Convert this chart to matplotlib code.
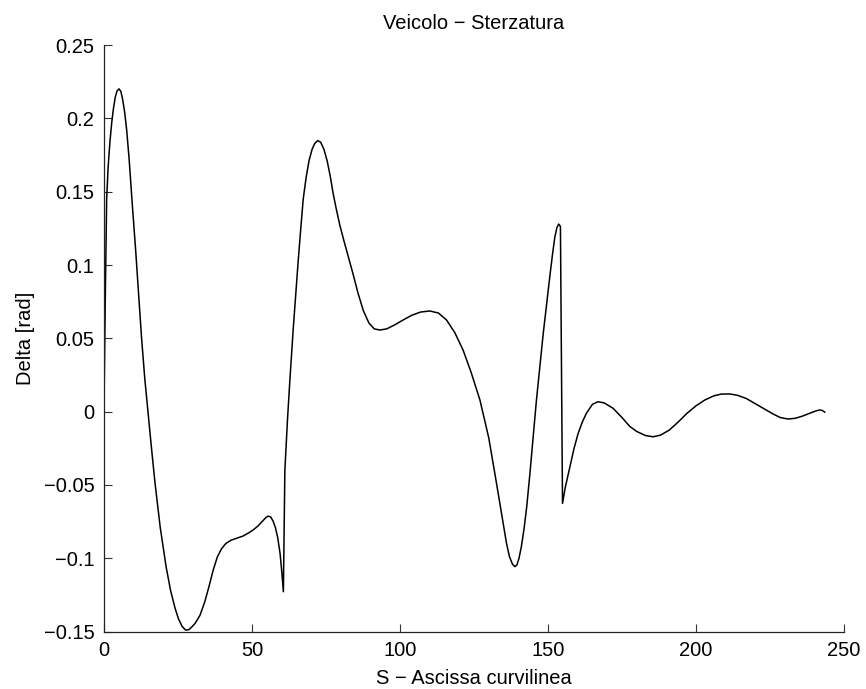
import matplotlib
matplotlib.use("Agg")
import matplotlib.pyplot as plt

# ascissa curvilinea [m] e angolo di sterzo [rad]
s = [0, 0.45, 0.9, 1.4, 2.0, 2.6, 3.2, 3.8, 4.4, 5.07, 5.7, 6.3, 7.0, 7.67,
     8.5, 9.5, 10.7, 11.7, 12.7, 13.8, 15.0, 16.1, 17.2, 19.0, 21.0, 22.5,
     24.0, 25.2, 26.4, 27.6, 28.6, 29.6, 30.8, 32.4, 34.0, 35.5, 36.9, 38.3,
     39.7, 41.2, 43.0, 45.0, 47.0, 49.0, 50.5, 52.0, 53.5, 54.7, 55.5, 56.3,
     57.1, 57.9, 58.7, 59.5, 60.1, 60.6, 61.1, 62.0, 62.8, 63.9, 65.5, 66.4,
     67.3, 68.3, 69.3, 70.3, 71.2, 72.2, 73.2, 74.3, 75.4, 76.4, 77.4, 78.5,
     79.7, 81.0, 82.5, 84.0, 85.8, 87.6, 89.5, 91.3, 93.2, 95.5, 98.0, 101.1,
     104.0, 107.0, 110.1, 113.0, 115.7, 118.5, 121.3, 124.0, 127.0, 130.0,
     132.6, 135.0, 136.0, 137.0, 138.0, 138.8, 139.5, 140.2, 141.0, 141.9,
     142.8, 143.9, 145.0, 146.1, 147.3, 148.4, 149.5, 150.6, 151.5, 152.3,
     153.0, 153.6, 154.0, 154.2, 154.9, 155.8, 157.4, 158.8, 160.2, 161.6,
     163.0, 165.0, 166.9, 169.0, 172.0, 175.0, 177.6, 180.0, 183.0, 185.5,
     188.0, 191.0, 194.0, 197.0, 200.0, 203.0, 206.0, 208.5, 211.4, 214.0,
     217.0, 220.0, 223.0, 226.0, 228.5, 231.1, 233.5, 236.0, 238.5, 240.5,
     241.8, 242.7, 243.5]
delta = [0.003, 0.08, 0.145, 0.167, 0.184, 0.197, 0.207, 0.2145, 0.2188,
         0.2202, 0.2185, 0.213, 0.204, 0.192, 0.172, 0.143, 0.110, 0.080,
         0.050, 0.022, -0.003, -0.026, -0.048, -0.079, -0.106, -0.122,
         -0.134, -0.1415, -0.1465, -0.149, -0.1487, -0.147, -0.1443, -0.139,
         -0.130, -0.119, -0.108, -0.099, -0.0935, -0.0898, -0.0876, -0.0862,
         -0.0848, -0.0825, -0.0805, -0.078, -0.0748, -0.0722, -0.0712,
         -0.0718, -0.0745, -0.079, -0.086, -0.097, -0.110, -0.1228, -0.040,
         -0.005, 0.0216, 0.0557, 0.100, 0.123, 0.145, 0.160, 0.1715, 0.179,
         0.1830, 0.1849, 0.1838, 0.179, 0.171, 0.161, 0.149, 0.138, 0.127,
         0.117, 0.106, 0.095, 0.081, 0.069, 0.0605, 0.0565, 0.0557, 0.0565,
         0.059, 0.0626, 0.0658, 0.068, 0.0687, 0.0673, 0.0626, 0.054, 0.0421,
         0.027, 0.008, -0.018, -0.0488, -0.078, -0.090, -0.099, -0.104,
         -0.1057, -0.1045, -0.100, -0.092, -0.080, -0.065, -0.042, -0.017,
         0.008, 0.032, 0.0535, 0.073, 0.092, 0.107, 0.119, 0.1255, 0.128,
         0.127, 0.1262, -0.0625, -0.052, -0.0375, -0.025, -0.0147, -0.007,
         -0.001, 0.005, 0.0068, 0.006, 0.0023, -0.004, -0.010, -0.0135,
         -0.0163, -0.0171, -0.016, -0.0125, -0.007, -0.001, 0.004, 0.008,
         0.0108, 0.012, 0.0121, 0.0112, 0.009, 0.0055, 0.002, -0.0015,
         -0.004, -0.005, -0.0045, -0.003, -0.001, 0.0005, 0.0012, 0.0008,
         -0.0003]

xticks = [0, 50, 100, 150, 200, 250]
yticks = [-0.15, -0.1, -0.05, 0, 0.05, 0.1, 0.15, 0.2, 0.25]
ytick_labels = ["\u22120.15", "\u22120.1", "\u22120.05", "0", "0.05", "0.1",
                "0.15", "0.2", "0.25"]

plt.rcParams['font.family'] = ['Liberation Sans', 'DejaVu Sans']
fs = 14.5

fig = plt.figure(figsize=(8.66, 6.89), dpi=100)
ax = fig.add_axes([104 / 866, 57.4 / 689, 740 / 866, 586.4 / 689])

ax.plot(s, delta, color='k', linewidth=1.1)

ax.set_xlim(0, 250)
ax.set_ylim(-0.15, 0.25)
ax.set_xticks(xticks)
ax.set_xticklabels([str(v) for v in xticks])
ax.set_yticks(yticks)
ax.set_yticklabels(ytick_labels)

# solo assi sinistro e inferiore, tacche verso l'interno
ax.spines['top'].set_visible(False)
ax.spines['right'].set_visible(False)
for side in ('left', 'bottom'):
    ax.spines[side].set_linewidth(0.9)
    ax.spines[side].set_color('#222222')
ax.tick_params(direction='in', length=6, width=0.8, color='#333333',
               labelsize=fs, pad=7)

ax.set_title("Veicolo \u2212 Sterzatura", fontsize=fs, pad=12)
ax.set_xlabel("S \u2212 Ascissa curvilinea", fontsize=fs, labelpad=6)
ax.set_ylabel("Delta [rad]", fontsize=fs, labelpad=6)

fig.savefig("out.png", dpi=100)
